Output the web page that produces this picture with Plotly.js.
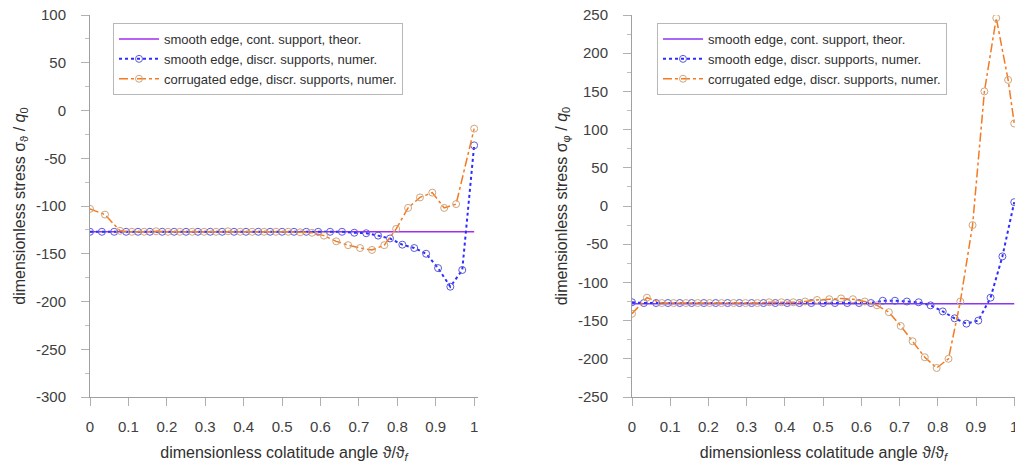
<!DOCTYPE html>
<html>
<head>
<meta charset="utf-8">
<script src="https://cdn.plot.ly/plotly-3.0.1.min.js"></script>
<style>html,body{margin:0;padding:0;background:#fff;}#chart{width:1015px;height:468px;}</style>
</head>
<body>
<div id="chart"></div>
<script>
// ---- data ----
const seriesNames = [
  "smooth edge, cont. support, theor.",
  "smooth edge, discr. supports, numer.",
  "corrugated edge, discr. supports, numer."
];
const xTheory = [0, 1];
const theoryLeft = [-127, -127];
const theoryRight = [-128, -128];

const xSmooth = [0, 0.031, 0.063, 0.094, 0.125, 0.156, 0.188, 0.219, 0.25, 0.281, 0.313, 0.344, 0.375, 0.406, 0.438, 0.469, 0.5, 0.531, 0.563, 0.594, 0.625, 0.656, 0.688, 0.719, 0.75, 0.781, 0.813, 0.844, 0.875, 0.906, 0.938, 0.969, 1];
const smoothLeft = [-127, -127, -127, -127, -127, -127, -127, -127, -127, -127, -127, -127, -127, -127, -127, -127, -127, -127, -127, -127, -127, -127, -128, -128.5, -131, -134, -140.5, -144, -150, -165, -184.5, -167, -36.5];
const smoothRight = [-126, -127, -127, -127, -127, -127, -127, -127, -127, -127, -127, -127, -127, -127, -127, -127, -127, -127, -127, -127, -127, -124, -124, -125, -126, -130, -138, -147, -154, -150, -120, -66, 5];

const xCorrLeft = [0, 0.039, 0.078, 0.109, 0.141, 0.172, 0.203, 0.234, 0.266, 0.297, 0.328, 0.359, 0.391, 0.422, 0.453, 0.484, 0.516, 0.547, 0.578, 0.609, 0.641, 0.672, 0.703, 0.734, 0.766, 0.797, 0.828, 0.859, 0.891, 0.922, 0.953, 1];
const corrLeft = [-103, -109, -126, -127, -127, -126.5, -127, -127, -127, -127, -127, -126.5, -127, -127, -127, -127, -127, -127.5, -128, -131, -137, -141, -144, -146, -141, -124, -102, -91, -86, -102, -98, -19];

const xCorrRight = [0, 0.039, 0.078, 0.109, 0.141, 0.172, 0.203, 0.234, 0.266, 0.297, 0.328, 0.359, 0.391, 0.422, 0.453, 0.484, 0.516, 0.547, 0.578, 0.609, 0.641, 0.672, 0.703, 0.734, 0.766, 0.797, 0.828, 0.859, 0.891, 0.922, 0.953, 0.984, 1];
const corrRight = [-141, -120, -127, -127, -127, -127, -127, -127, -127, -127, -127, -126, -126, -126, -125, -123, -122, -121, -122, -125, -130, -139, -157, -177, -198, -212, -200, -125, -25, 150, 246, 165, 108];

const xTickVals = [0, 0.1, 0.2, 0.3, 0.4, 0.5, 0.6, 0.7, 0.8, 0.9, 1];
const xTickText = ["0", "0.1", "0.2", "0.3", "0.4", "0.5", "0.6", "0.7", "0.8", "0.9", "1"];
const yTickValsL = [-300, -250, -200, -150, -100, -50, 0, 50, 100];
const yTickTextL = ["-300", "-250", "-200", "-150", "-100", "-50", "0", "50", "100"];
const yTickValsR = [-250, -200, -150, -100, -50, 0, 50, 100, 150, 200, 250];
const yTickTextR = ["-250", "-200", "-150", "-100", "-50", "0", "50", "100", "150", "200", "250"];

const xTitle = "dimensionless colatitude angle ϑ/ϑ<sub><i>f</i></sub>";
const yTitleLeft = "dimensionless stress σ<sub>ϑ</sub> / <i>q</i><sub>0</sub>";
const yTitleRight = "dimensionless stress σ<sub>φ</sub> / <i>q</i><sub>0</sub>";

// ---- styles ----
const colTheoryL = "#a22cf0";
const colTheoryR = "#8a36f2";
const colSmooth = "#2d2dff";
const colSmoothMk = "#5a5ad8";
const colCorr = "#f47a22";
const colCorrMk = "#cfa57c";
const FONT = "Liberation Sans, Arial, sans-serif";

function traces(xa, ya, legend, theory, colT, smooth, xC, corr) {
  return [
    {x: xTheory, y: theory, xaxis: xa, yaxis: ya, legend: legend, name: seriesNames[0], mode: "lines",
     line: {color: colT, width: 1.5}},
    {x: xSmooth, y: smooth, xaxis: xa, yaxis: ya, legend: legend, name: seriesNames[1], mode: "lines+markers",
     line: {color: colSmooth, width: 2, dash: "dot"},
     marker: {symbol: "circle-open", size: 7, color: colSmoothMk, line: {width: 1, color: colSmoothMk}}},
    {x: xC, y: corr, xaxis: xa, yaxis: ya, legend: legend, name: seriesNames[2], mode: "lines+markers",
     line: {color: colCorr, width: 1.5, dash: "dashdot"},
     marker: {symbol: "circle-open", size: 7, color: colCorrMk, line: {width: 1, color: colCorrMk}}}
  ];
}

const data = [].concat(
  traces("x", "y", "legend", theoryLeft, colTheoryL, smoothLeft, xCorrLeft, corrLeft),
  traces("x2", "y2", "legend2", theoryRight, colTheoryR, smoothRight, xCorrRight, corrRight)
);

function minorVals(vals) {
  const out = [];
  for (let i = 0; i < vals.length - 1; i++) out.push((vals[i] + vals[i + 1]) / 2);
  return out;
}

function xaxis(domain, range, anchor) {
  return {
    anchor: anchor, domain: domain, range: range, tickmode: "array", tickvals: xTickVals, ticktext: xTickText,
    showline: true, linecolor: "#a0a0a0", linewidth: 1, ticks: "outside", ticklen: 8, tickcolor: "#b0b0b0",
    showgrid: false, zeroline: false, automargin: false, ticklabelstandoff: 8, ticklabeloverflow: "allow",
    tickfont: {family: FONT, size: 15, color: "#404040"},
    title: {text: xTitle, font: {family: FONT, size: 16, color: "#303030"}, standoff: 12}
  };
}
function yaxis(anchor, range, vals, text, title) {
  return {
    anchor: anchor, domain: [0, 1], range: range, tickmode: "array", tickvals: vals, ticktext: text,
    showline: true, linecolor: "#a0a0a0", linewidth: 1, ticks: "outside", ticklen: 8, tickcolor: "#b0b0b0",
    minor: {tickmode: "array", tickvals: minorVals(vals), ticks: "outside", ticklen: 4, tickcolor: "#c0c0c0", showgrid: false},
    showgrid: false, zeroline: false, automargin: false, ticklabelstandoff: 12,
    tickfont: {family: FONT, size: 15, color: "#404040"},
    title: {text: title, font: {family: FONT, size: 16, color: "#303030"}, standoff: 6}
  };
}
function legend(x) {
  return {x: x, y: 0.979, xanchor: "left", yanchor: "top", bgcolor: "#ffffff",
          bordercolor: "#b8b8b8", borderwidth: 1, font: {family: FONT, size: 13, color: "#303030"},
          tracegroupgap: 0, itemwidth: 40};
}

const layout = {
  width: 1015, height: 468,
  margin: {l: 0, r: 0, t: 15, b: 71},
  paper_bgcolor: "#ffffff", plot_bgcolor: "#ffffff",
  font: {family: FONT},
  showlegend: true,
  xaxis: xaxis([90 / 1015, 478 / 1015], [0, 1.01], "y"),
  yaxis: yaxis("x", [-300, 100], yTickValsL, yTickTextL, yTitleLeft),
  xaxis2: xaxis([632 / 1015, 1], [0, 1.002], "y2"),
  yaxis2: yaxis("x2", [-250, 250], yTickValsR, yTickTextR, yTitleRight),
  legend: legend(113 / 1015),
  legend2: legend(657 / 1015)
};

Plotly.newPlot("chart", data, layout, {staticPlot: true, displayModeBar: false});
</script>
</body>
</html>
